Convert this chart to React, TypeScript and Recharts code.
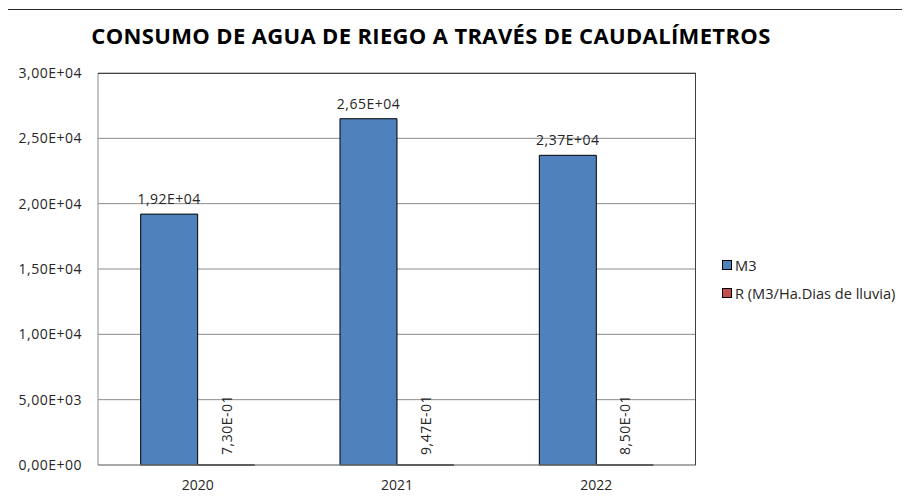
import { BarChart, Bar, XAxis, YAxis, CartesianGrid, LabelList } from "recharts";

const YEARS = ["2020", "2021", "2022"];
const M3 = [19200, 26500, 23700];
const R_RATIO = [0.73, 0.947, 0.85];
const Y_TICKS = [0, 5000, 10000, 15000, 20000, 25000, 30000];

const SERIES = [
  { key: "m3", name: "M3", color: "#4F81BD" },
  { key: "r", name: "R (M3/Ha.Dias de lluvia)", color: "#C0504D" },
];

const data = YEARS.map((year, i) => ({ year, m3: M3[i], r: R_RATIO[i] }));

const FONT = "'Open Sans', 'DejaVu Sans', sans-serif";
const TEXT = "#262626";

// Excel-style scientific format: 2,65E+04
function sci(v: number) {
  const [mant, exp] = v.toExponential(2).split("e");
  const sign = exp[0] === "-" ? "-" : "+";
  const n = Math.abs(parseInt(exp, 10));
  return mant.replace(".", ",") + "E" + sign + String(n).padStart(2, "0");
}

const plot = { left: 98, top: 73, right: 696, bottom: 465 };

function VerticalLabel(props: any) {
  const { x, y, width, value } = props;
  const cx = x + width / 2;
  const ty = y - 10;
  return (
    <text
      x={cx}
      y={ty}
      transform={`rotate(-90 ${cx} ${ty})`}
      textAnchor="start"
      dominantBaseline="central"
      fontSize={14}
      letterSpacing={0.5}
      fill={TEXT}
      fontFamily={FONT}
    >
      {sci(value)}
    </text>
  );
}

export default function App() {
  return (
    <div
      style={{
        position: "relative",
        width: 910,
        height: 502,
        margin: -8,
        overflow: "hidden",
        background: "#fff",
        fontFamily: FONT,
      }}
    >
      <div
        style={{
          position: "absolute",
          left: 7,
          top: 9,
          width: 940,
          height: 540,
          border: "1px solid #262626",
        }}
      />
      <div
        style={{
          position: "absolute",
          left: 0,
          width: 862,
          top: 20,
          textAlign: "center",
          fontWeight: 700,
          fontSize: 22,
          letterSpacing: 0.35,
          color: "#000",
        }}
      >
        CONSUMO DE AGUA DE RIEGO A TRAVÉS DE CAUDALÍMETROS
      </div>
      <div style={{ position: "absolute", left: 0, top: 0 }}>
        <BarChart
          width={910}
          height={502}
          data={data}
          margin={{ top: plot.top, left: 8, right: 910 - plot.right, bottom: 7 }}
          barCategoryGap="21.4%"
          barGap={0}
        >
          <CartesianGrid vertical={false} stroke="#8c8c8c" />
          <XAxis
            dataKey="year"
            height={30}
            tickLine={false}
            tickSize={0}
            tickMargin={15}
            axisLine={{ stroke: "#8c8c8c" }}
            tick={{ fill: TEXT, fontSize: 14, fontFamily: FONT }}
          />
          <YAxis
            width={90}
            domain={[0, 30000]}
            ticks={Y_TICKS}
            tickFormatter={sci}
            tickLine={false}
            tickSize={0}
            tickMargin={16}
            axisLine={{ stroke: "#8c8c8c" }}
            tick={{ fill: TEXT, fontSize: 14, fontFamily: FONT, letterSpacing: 0.5 }}
          />
          <Bar dataKey="m3" name={SERIES[0].name} fill={SERIES[0].color} stroke="#000" strokeWidth={1} isAnimationActive={false}>
            <LabelList
              dataKey="m3"
              position="top"
              offset={10}
              formatter={(v: any) => sci(Number(v))}
              style={{ fill: TEXT, fontSize: 14, fontFamily: FONT, letterSpacing: 0.5 }}
            />
          </Bar>
          <Bar
            dataKey="r"
            name={SERIES[1].name}
            fill={SERIES[1].color}
            stroke="#000"
            strokeWidth={1}
            isAnimationActive={false}
          >
            <LabelList dataKey="r" content={VerticalLabel} />
          </Bar>
        </BarChart>
      </div>
      <div
        style={{
          position: "absolute",
          left: plot.left,
          top: plot.top,
          width: plot.right - plot.left,
          height: plot.bottom - plot.top,
          borderTop: "1px solid #404040",
          borderRight: "1px solid #404040",
          boxSizing: "border-box",
          pointerEvents: "none",
        }}
      />
      <div
        style={{
          position: "absolute",
          left: 722,
          top: 251,
          fontSize: 14.6,
          color: TEXT,
        }}
      >
        {SERIES.map((s) => (
          <div key={s.key} style={{ display: "flex", alignItems: "center", height: 28 }}>
            <span
              style={{
                width: 8,
                height: 8,
                background: s.color,
                border: "1px solid #000",
                marginRight: 3,
              }}
            />
            <span>{s.name}</span>
          </div>
        ))}
      </div>
    </div>
  );
}
